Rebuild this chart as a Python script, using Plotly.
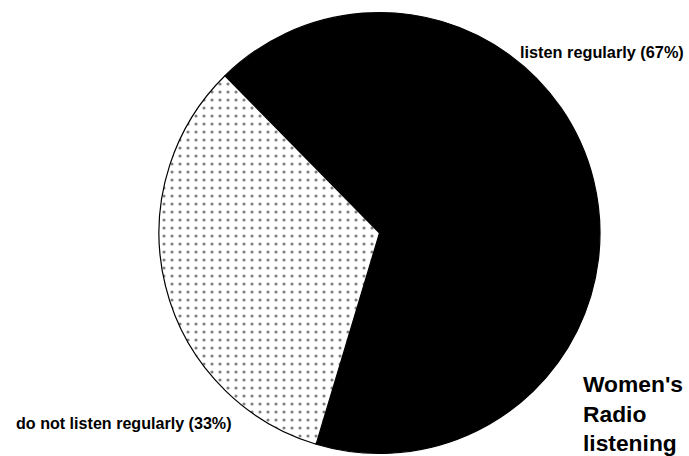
import plotly.graph_objects as go

labels = ["listen regularly", "do not listen regularly"]
values = [67, 33]
label_texts = ["listen regularly (67%)", "do not listen regularly (33%)"]
title_lines = ["Women's", "Radio", "listening"]

W, H = 689, 456

fig = go.Figure(go.Pie(
    labels=labels,
    values=values,
    sort=False,
    direction="clockwise",
    rotation=-44.5,
    textinfo="none",
    hoverinfo="label+percent",
    showlegend=False,
    marker=dict(
        colors=["black", "white"],
        line=dict(color="black", width=1.2),
        pattern=dict(shape=["", "."], fgcolor="black", bgcolor=["black", "white"],
                     size=8, solidity=0.12, fillmode="overlay"),
    ),
    domain=dict(x=[159 / W, 600 / W], y=[0, 446 / H]),
))

font = dict(family="Liberation Sans, Arial, sans-serif", color="black")

fig.add_annotation(x=518 / W, y=1 - 52 / H, xref="paper", yref="paper",
                   xanchor="left", yanchor="middle", showarrow=False,
                   text="<b>" + label_texts[0] + "</b>", font=dict(size=16.3, **font))
fig.add_annotation(x=14 / W, y=1 - 423 / H, xref="paper", yref="paper",
                   xanchor="left", yanchor="middle", showarrow=False,
                   text="<b>" + label_texts[1] + "</b>", font=dict(size=16.1, **font))
fig.add_annotation(x=581 / W, y=1 - 369 / H, xref="paper", yref="paper",
                   xanchor="left", yanchor="top", showarrow=False, align="left",
                   text="<b>" + "<br>".join(title_lines) + "</b>", font=dict(size=22.8, **font))

fig.update_layout(width=W, height=H, margin=dict(l=0, r=0, t=0, b=0),
                  paper_bgcolor="white", plot_bgcolor="white")

fig.write_html("out.html", post_script="document.body.style.margin='0';",
               config={"displayModeBar": False})
